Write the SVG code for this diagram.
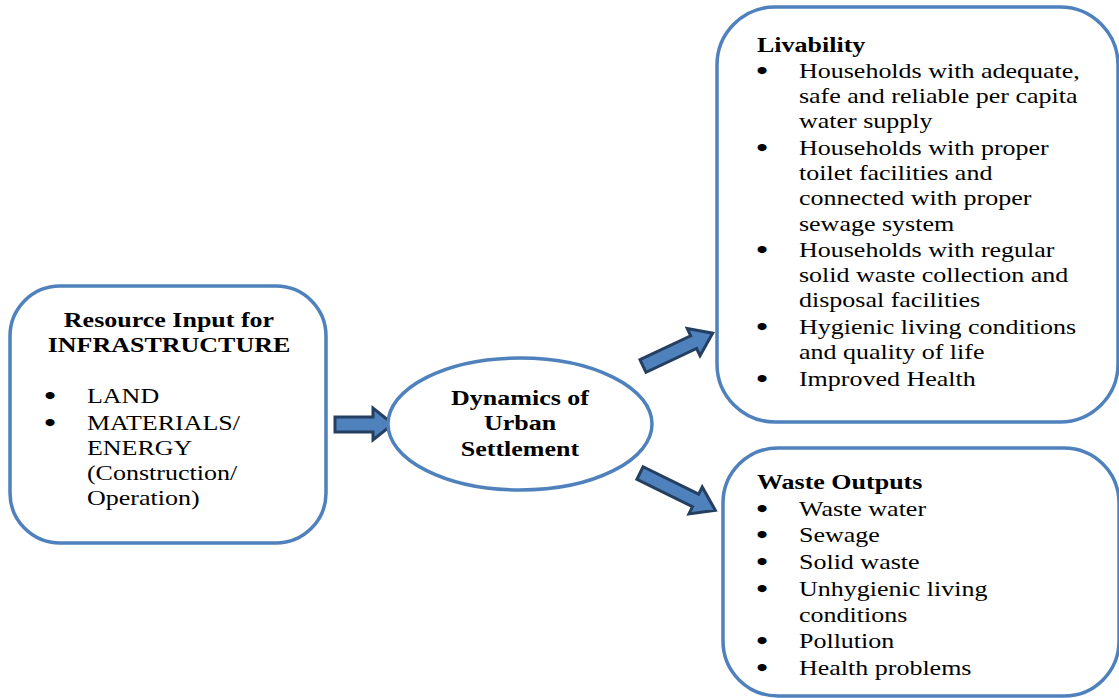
<svg xmlns="http://www.w3.org/2000/svg" width="1119" height="698" viewBox="0 0 1119 698">
<style>
.box{fill:#fff;stroke:#4F81BD;stroke-width:3.5}
.arr{fill:#4F81BD;stroke:#243F60;stroke-width:3;stroke-linejoin:miter}
text{font-family:"Liberation Serif","Times New Roman",serif;font-size:20px;fill:#000}
.b{font-weight:bold}
.m{text-anchor:middle}
.u{text-anchor:middle;font-size:20px;stroke:#000;stroke-width:2.2}
</style>
<rect width="1119" height="698" fill="#fff"/>
<g id="connectors">
<path class="arr" d="M335,417 H373 V408 L393,424 L373,440 V432 H335 Z"/>
<path class="arr" transform="translate(643,366) rotate(-25.2)" d="M0,-7 H56 V-15 L77,0 L56,15 V7 H0 Z"/>
<path class="arr" transform="translate(640,473) rotate(26.3)" d="M0,-7 H62 V-15 L84,0 L62,15 V7 H0 Z"/>
</g>
<g id="resource">
<rect class="box" x="10" y="286" width="316" height="257" rx="50"/>
<g transform="scale(1.3 1)">
<text class="b m" x="130" y="327">Resource Input for</text>
<text class="b m" x="130" y="352">INFRASTRUCTURE</text>
<text class="u" x="38.5" y="403">•</text>
<text x="66.9" y="403">LAND</text>
<text class="u" x="38.5" y="430">•</text>
<text x="66.9" y="430">MATERIALS/</text>
<text x="66.9" y="455">ENERGY</text>
<text x="66.9" y="480">(Construction/</text>
<text x="66.9" y="505">Operation)</text>
</g>
</g>
<g id="dynamics">
<ellipse class="box" cx="520" cy="424" rx="132" ry="66"/>
<g transform="scale(1.3 1)">
<text class="b m" x="400" y="405">Dynamics of</text>
<text class="b m" x="400" y="430">Urban</text>
<text class="b m" x="400" y="456">Settlement</text>
</g>
</g>
<g id="livability">
<rect class="box" x="717" y="7" width="401" height="415" rx="58"/>
<g transform="scale(1.3 1)">
<text class="b" x="582.3" y="52">Livability</text>
<text class="u" x="586.2" y="78">•</text>
<text x="614.6" y="78">Households with adequate,</text>
<text x="614.6" y="103">safe and reliable per capita</text>
<text x="614.6" y="128">water supply</text>
<text class="u" x="586.2" y="155">•</text>
<text x="614.6" y="155">Households with proper</text>
<text x="614.6" y="180">toilet facilities and</text>
<text x="614.6" y="205">connected with proper</text>
<text x="614.6" y="231">sewage system</text>
<text class="u" x="586.2" y="257">•</text>
<text x="614.6" y="257">Households with regular</text>
<text x="614.6" y="282">solid waste collection and</text>
<text x="614.6" y="307">disposal facilities</text>
<text class="u" x="586.2" y="334">•</text>
<text x="614.6" y="334">Hygienic living conditions</text>
<text x="614.6" y="359">and quality of life</text>
<text class="u" x="586.2" y="386">•</text>
<text x="614.6" y="386">Improved Health</text>
</g>
</g>
<g id="waste">
<rect class="box" x="723" y="448" width="396" height="248" rx="55"/>
<g transform="scale(1.3 1)">
<text class="b" x="582.3" y="489">Waste Outputs</text>
<text class="u" x="586.2" y="516">•</text>
<text x="614.6" y="516">Waste water</text>
<text class="u" x="586.2" y="542">•</text>
<text x="614.6" y="542">Sewage</text>
<text class="u" x="586.2" y="569">•</text>
<text x="614.6" y="569">Solid waste</text>
<text class="u" x="586.2" y="596">•</text>
<text x="614.6" y="596">Unhygienic living</text>
<text x="614.6" y="622">conditions</text>
<text class="u" x="586.2" y="648">•</text>
<text x="614.6" y="648">Pollution</text>
<text class="u" x="586.2" y="675">•</text>
<text x="614.6" y="675">Health problems</text>
</g>
</g>
</svg>
